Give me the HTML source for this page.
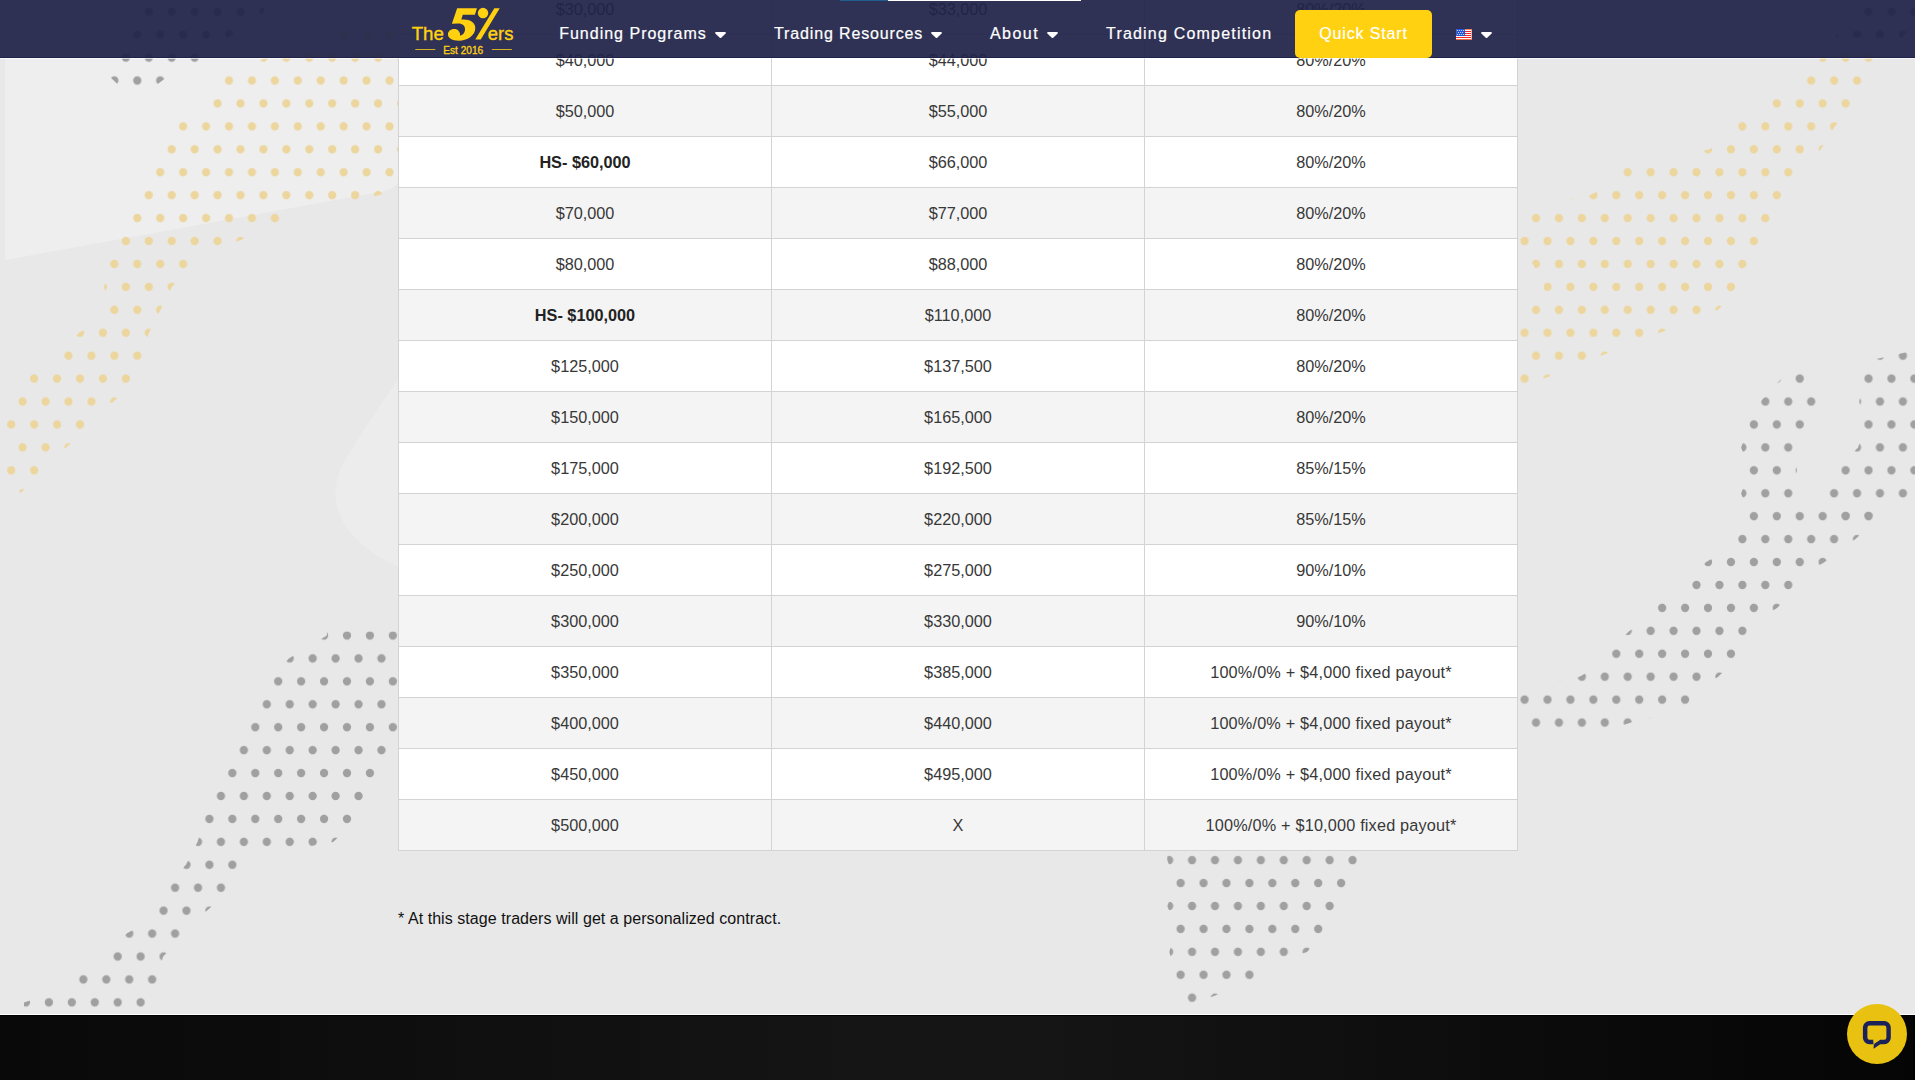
<!DOCTYPE html>
<html lang="en">
<head>
<meta charset="utf-8">
<title>The5ers – Scaling Plan</title>
<style>
*{box-sizing:border-box}
html,body{margin:0;padding:0}
body{width:1915px;height:1080px;overflow:hidden;position:relative;background:#e8e8e8;font-family:"Liberation Sans",sans-serif;color:#333}
.bg{position:absolute;left:0;top:0;width:1915px;height:1080px;display:block}
.plan{position:absolute;left:398px;top:-17px;border-collapse:separate;border-spacing:0;border-right:1px solid #d3d3d3;border-bottom:1px solid #d3d3d3;table-layout:fixed;width:1120px}
.plan td{width:373px;height:51px;padding:0;border-left:1px solid #d3d3d3;border-top:1px solid #d3d3d3;background:#fff;text-align:center;vertical-align:middle;font-size:16.25px;line-height:20px;color:#383838}
.plan tr.alt td{background:#f4f4f4}
.plan .w{letter-spacing:.18px}
.plan strong{font-weight:700;color:#222}
.note{position:absolute;left:398px;top:909px;margin:0;font-size:16px;line-height:20px;color:#111;white-space:nowrap;letter-spacing:.06px}
.footer{position:absolute;left:0;top:1014px;width:1915px;height:66px;border-top:1px solid #fff;background:#000}
.footer u{position:absolute;right:0;top:1px;width:2px;height:64px;background:#000}
.footer i{position:absolute;left:0;top:1px;width:1915px;height:64px;display:block;background:linear-gradient(90deg,#090909 0%,#0c0c0c 12%,#101010 27%,#141414 42%,#151515 50%,#141414 57%,#101010 68%,#0c0c0c 79%,#080808 90%,#050505 100%)}
.header{position:absolute;left:0;top:0;width:1915px;height:58px;background:rgba(32,34,72,.93)}
.header:after{content:"";position:absolute;left:0;top:57px;width:1915px;height:1px;background:#20224a}
.header:before{content:"";position:absolute;left:0;top:58px;width:1915px;height:1px;background:rgba(255,255,255,.65)}
.progress{position:absolute;left:840px;top:0;width:241px;height:1px;background:#fff}
.progress b{display:block;width:48px;height:1px;background:#1f5e8f}
.logo{position:absolute;left:0;top:0}
.nav a{position:absolute;top:21.6px;height:24px;line-height:24px;font-size:16px;letter-spacing:.86px;color:#fff;text-decoration:none;white-space:nowrap;-webkit-text-stroke:.2px #fff}
.caret{position:absolute;top:31.5px;width:11px;height:6px}
.cta{position:absolute;left:1295px;top:10px;width:137px;height:47.7px;border-radius:5px;z-index:1;background:#ffd110;color:#fff;text-align:center;font-size:16px;letter-spacing:.84px;line-height:48px;-webkit-text-stroke:.2px #fff;text-decoration:none}
.flag{position:absolute;left:1456px;top:29px;width:16px;height:11px}
.chat{position:absolute;left:1847px;top:1004px;width:60px;height:60px;border-radius:50%;background:#e9c211}
.chat svg{position:absolute;left:0;top:0}
</style>
</head>
<body>
<svg class="bg" width="1915" height="1080" viewBox="0 0 1915 1080">
 <defs>
  <pattern id="pAy" width="22.93" height="45.86" patternUnits="userSpaceOnUse" patternTransform="translate(6.20 52.60)">
   <circle cx="5" cy="5" r="4.15" fill="#ecd69e"/><circle cx="16.43" cy="27.93" r="4.15" fill="#ecd69e"/>
  </pattern>
  <pattern id="pAg" width="22.93" height="45.86" patternUnits="userSpaceOnUse" patternTransform="translate(6.20 52.60)">
   <circle cx="5" cy="5" r="4.15" fill="#a0a0a0"/><circle cx="16.43" cy="27.93" r="4.15" fill="#a0a0a0"/>
  </pattern>
  <pattern id="pBy" width="22.93" height="45.86" patternUnits="userSpaceOnUse" patternTransform="translate(-1.95 630.50)">
   <circle cx="5" cy="5" r="4.15" fill="#ecd69e"/><circle cx="16.53" cy="27.93" r="4.15" fill="#ecd69e"/>
  </pattern>
  <pattern id="pBg" width="22.93" height="45.86" patternUnits="userSpaceOnUse" patternTransform="translate(-1.95 630.50)">
   <circle cx="5" cy="5" r="4.15" fill="#a0a0a0"/><circle cx="16.53" cy="27.93" r="4.15" fill="#a0a0a0"/>
  </pattern>
 </defs>
 <path d="M5 0H400V181C396 186 390 190 380 192L5 260Z" fill="#eeeeee"/>
 <path d="M400 377C380 405 360 435 345 460C333 481 333 502 342 520C354 542 378 559 400 567Z" fill="#ececec"/>
 <polygon points="142.9,3.8 142.9,6.6 142.9,17.0 131.4,29.6 131.4,40.0 119.9,52.5 119.9,62.9 109.5,76.5 119.5,86.0 150.0,86.5 157.0,84.5 166.5,77.5 200.8,62.9 200.8,52.5 233.2,34.8 263.9,11.8 263.9,3.8" fill="url(#pAg)"/>
 <polygon points="337.9,26.8 337.9,29.6 337.9,40.0 266.2,57.7 223.2,75.4 223.2,85.8 211.7,98.4 211.7,108.8 177.3,121.3 177.3,131.7 165.8,144.2 165.8,154.6 154.4,167.2 154.4,177.6 142.9,190.1 142.9,200.5 131.5,213.0 131.5,223.4 120.0,235.9 120.0,246.3 108.6,258.9 108.6,269.3 104.0,287.0 108.6,304.7 108.6,315.1 78.6,332.9 62.7,350.6 62.7,361.0 28.3,373.5 28.3,383.9 16.8,396.4 16.8,406.8 5.3,419.4 5.3,429.8 16.8,442.3 16.8,452.7 5.3,465.2 5.3,475.6 20.8,493.4 20.8,493.4 19.8,493.4 19.8,493.4 40.3,475.6 40.3,465.2 66.2,447.5 86.1,429.8 86.1,419.4 113.6,401.6 132.0,383.9 132.0,373.5 143.5,361.0 143.5,350.6 148.9,332.9 160.4,309.9 171.8,287.0 189.3,269.3 189.3,258.9 238.2,241.1 281.1,223.4 281.1,213.0 379.2,195.3 416.0,177.6 416.0,167.2 416.0,154.6 416.0,144.2 416.0,131.7 416.0,121.3 416.0,108.8 416.0,98.4 416.0,85.8 416.0,75.4 416.0,62.9 416.0,52.5 416.0,40.0 416.0,29.6 416.0,26.8" fill="url(#pAy)"/>
 <polygon points="1821.4,49.7 1821.4,57.7 1805.4,75.4 1805.4,85.8 1771.0,98.4 1771.0,108.8 1736.6,121.3 1736.6,131.7 1709.2,149.4 1621.9,167.2 1621.9,177.6 1590.0,195.3 1499.0,213.0 1499.0,223.4 1499.0,235.9 1499.0,246.3 1533.0,264.1 1544.4,287.0 1530.2,304.7 1530.2,315.1 1518.7,327.7 1518.7,338.1 1530.2,350.6 1530.2,361.0 1518.7,373.5 1518.7,383.9 1518.7,384.7 1543.4,384.7 1543.4,378.7 1601.1,355.8 1659.3,332.9 1717.6,309.9 1737.1,292.2 1737.1,281.8 1748.6,269.3 1748.6,258.9 1760.0,246.3 1760.0,235.9 1771.5,223.4 1771.5,213.0 1783.0,200.5 1783.0,190.1 1794.4,177.6 1794.4,167.2 1820.8,149.4 1834.8,126.5 1851.8,108.8 1851.8,98.4 1863.2,85.8 1863.2,75.4 1874.7,62.9 1874.7,52.5 1874.7,49.7" fill="url(#pAy)"/>
 <polygon points="1862.7,3.8 1862.7,6.6 1862.7,17.0 1836.3,34.8 1836.3,37.8 1903.5,37.8 1903.5,34.8 1931.0,17.0 1931.0,6.6 1931.0,3.8" fill="url(#pAg)"/>
 <polygon points="1775.5,384.7 1760.6,401.6 1748.0,419.4 1748.0,429.8 1741.1,447.5 1748.0,465.2 1748.0,475.6 1741.1,493.4 1748.0,511.1 1748.0,521.5 1736.6,534.0 1736.6,544.4 1705.7,562.2 1690.7,579.9 1690.7,590.3 1656.3,602.8 1656.3,613.2 1629.4,631.0 1610.4,648.7 1610.4,659.1 1579.5,676.8 1499.0,694.5 1499.0,704.9 1499.0,717.5 1499.0,727.9 1499.0,728.5 1613.0,728.5 1640.0,719.5 1658.0,717.0 1691.2,704.9 1691.2,694.5 1718.1,676.8 1737.1,659.1 1737.1,648.7 1748.6,636.2 1748.6,625.8 1777.0,608.0 1794.4,590.3 1794.4,579.9 1824.3,562.2 1855.2,539.2 1874.7,521.5 1874.7,511.1 1794.4,498.6 1794.4,488.2 1796.9,470.4 1794.4,452.7 1794.4,442.3 1805.9,429.8 1805.9,419.4 1817.4,406.8 1817.4,396.4 1805.9,383.9 1805.9,373.5 1805.9,372.0 1788.2,372.0" fill="url(#pAg)"/>
 <polygon points="1872.0,360.0 1862.7,373.5 1862.7,383.9 1859.2,401.6 1862.7,419.4 1862.7,429.8 1858.2,447.5 1839.8,465.2 1839.8,475.6 1828.3,488.2 1828.3,498.6 1828.3,511.1 1828.3,521.5 1828.3,516.3 1874.7,516.3 1874.7,521.5 1874.7,511.1 1931.0,498.6 1931.0,488.2 1931.0,475.6 1931.0,465.2 1931.0,452.7 1931.0,442.3 1931.0,429.8 1931.0,419.4 1931.0,406.8 1931.0,396.4 1931.0,383.9 1931.0,373.5 1925.0,348.0" fill="url(#pAg)"/>
 <polygon points="1167.3,852.2 1167.3,860.2 1174.5,878.0 1174.5,888.4 1167.3,906.1 1174.5,923.8 1174.5,934.2 1169.3,952.0 1174.5,969.7 1174.5,980.1 1186.3,992.6 1186.3,1003.0 1186.3,1004.0 1200.0,1004.0 1205.0,999.4 1255.3,980.1 1255.3,969.7 1306.9,952.0 1324.0,934.2 1324.0,923.8 1335.9,911.3 1335.9,900.9 1347.0,888.4 1347.0,878.0 1358.8,865.5 1358.8,855.0 1358.8,852.2" fill="url(#pAg)"/>
 <polygon points="326.9,631.5 326.9,635.5 288.8,658.4 272.2,676.2 272.2,686.6 260.8,699.1 260.8,709.5 249.3,722.0 249.3,732.4 237.8,744.9 237.8,755.4 226.4,767.9 226.4,778.3 214.9,790.8 214.9,801.2 203.4,813.7 203.4,824.1 197.5,841.9 186.0,864.8 169.1,882.5 169.1,892.9 157.6,905.5 157.6,915.9 126.7,933.6 111.8,951.3 111.8,961.7 77.4,974.2 77.4,984.7 24.0,1002.4 24.0,1010.4 146.7,1010.4 146.7,1007.6 146.7,997.2 158.1,984.7 158.1,974.2 163.1,956.5 181.1,938.8 181.1,928.4 206.9,910.7 226.9,892.9 226.9,882.5 238.4,870.0 238.4,859.6 333.1,841.9 353.0,824.1 353.0,813.7 364.5,801.2 364.5,790.8 376.0,778.3 376.0,767.9 416.0,755.4 416.0,744.9 416.0,732.4 416.0,722.0 416.0,709.5 416.0,699.1 416.0,686.6 416.0,676.2 416.0,663.6 416.0,653.2 416.0,640.7 416.0,630.3 416.0,631.5" fill="url(#pBg)"/>
</svg>
<table class="plan">
  <tbody>
      <tr class="alt"><td>$30,000</td><td>$33,000</td><td>80%/20%</td></tr>
      <tr class=""><td>$40,000</td><td>$44,000</td><td>80%/20%</td></tr>
      <tr class="alt"><td>$50,000</td><td>$55,000</td><td>80%/20%</td></tr>
      <tr class=""><td><strong>HS- $60,000</strong></td><td>$66,000</td><td>80%/20%</td></tr>
      <tr class="alt"><td>$70,000</td><td>$77,000</td><td>80%/20%</td></tr>
      <tr class=""><td>$80,000</td><td>$88,000</td><td>80%/20%</td></tr>
      <tr class="alt"><td><strong>HS- $100,000</strong></td><td>$110,000</td><td>80%/20%</td></tr>
      <tr class=""><td>$125,000</td><td>$137,500</td><td>80%/20%</td></tr>
      <tr class="alt"><td>$150,000</td><td>$165,000</td><td>80%/20%</td></tr>
      <tr class=""><td>$175,000</td><td>$192,500</td><td>85%/15%</td></tr>
      <tr class="alt"><td>$200,000</td><td>$220,000</td><td>85%/15%</td></tr>
      <tr class=""><td>$250,000</td><td>$275,000</td><td>90%/10%</td></tr>
      <tr class="alt"><td>$300,000</td><td>$330,000</td><td>90%/10%</td></tr>
      <tr class=""><td>$350,000</td><td>$385,000</td><td><span class="w">100%/0% + $4,000 fixed payout*</span></td></tr>
      <tr class="alt"><td>$400,000</td><td>$440,000</td><td><span class="w">100%/0% + $4,000 fixed payout*</span></td></tr>
      <tr class=""><td>$450,000</td><td>$495,000</td><td><span class="w">100%/0% + $4,000 fixed payout*</span></td></tr>
      <tr class="alt"><td>$500,000</td><td>X</td><td><span class="w">100%/0% + $10,000 fixed payout*</span></td></tr>
  </tbody>
</table>
<p class="note">* At this stage traders will get a personalized contract.</p>
<div class="footer"><i></i><u></u></div>
<div class="header">
  <svg class="logo" width="560" height="58" viewBox="0 0 560 58">
    <g fill="#ffd110">
      <g transform="translate(440 2) scale(0.04177)">
        <path d="M410 150L885 150L835 305L545 305L510 420C700 400 845 480 845 620C845 800 650 925 450 925C300 925 190 870 190 780C190 700 250 645 340 645C430 645 485 710 485 810C560 780 600 720 600 650C600 570 540 515 440 515L285 520Z"/>
        <circle cx="1030" cy="265" r="125"/>
        <path d="M1300 150L1430 150L975 900L845 900Z"/>
      </g>
      <text x="411.7" y="39.5" font-family="Liberation Sans, sans-serif" font-size="18.7" stroke="#ffd110" stroke-width=".4">The</text>
      <text x="487.8" y="39.5" font-family="Liberation Sans, sans-serif" font-size="18.4" stroke="#ffd110" stroke-width=".4">ers</text>
      <text x="443.2" y="53.8" font-family="Liberation Sans, sans-serif" font-size="10.3" stroke="#ffd110" stroke-width=".3" textLength="40" lengthAdjust="spacingAndGlyphs">Est 2016</text>
      <rect x="415.3" y="49" width="20" height="1" opacity=".8"/>
      <rect x="491.8" y="49" width="20" height="1" opacity=".8"/>
    </g>
  </svg>

  <nav class="nav">
    <a href="#" style="left:559.2px;letter-spacing:1px">Funding Programs</a>
    <svg class="caret" style="left:715px" viewBox="0 0 11 6"><path d="M1 0h9a.9.9 0 0 1 .65 1.5L6.2 5.7a1 1 0 0 1-1.4 0L.35 1.5A.9.9 0 0 1 1 0z" fill="#fff"/></svg>
    <a href="#" style="left:774px">Trading Resources</a>
    <svg class="caret" style="left:931px" viewBox="0 0 11 6"><path d="M1 0h9a.9.9 0 0 1 .65 1.5L6.2 5.7a1 1 0 0 1-1.4 0L.35 1.5A.9.9 0 0 1 1 0z" fill="#fff"/></svg>
    <a href="#" style="left:990px;letter-spacing:1.45px">About</a>
    <svg class="caret" style="left:1047px" viewBox="0 0 11 6"><path d="M1 0h9a.9.9 0 0 1 .65 1.5L6.2 5.7a1 1 0 0 1-1.4 0L.35 1.5A.9.9 0 0 1 1 0z" fill="#fff"/></svg>
    <a href="#" style="left:1106px;letter-spacing:1.2px">Trading Competition</a>
  </nav>
  <a class="cta" href="#">Quick Start</a>
  <svg class="flag" viewBox="0 0 16 11"><rect width="16" height="11" fill="#fff"/><rect y="0" width="16" height="1" fill="#e9846a"/><g fill="#f3262b"><rect y="2" width="15" height="1"/><rect y="4" width="15" height="1"/><rect y="6" width="15" height="1"/><rect y="8" width="15" height="1"/></g><rect y="10" width="16" height="1" fill="#e56a45"/><rect x="15" y="0" width="1" height="11" fill="#e8855f" opacity=".6"/><rect width="9" height="7" fill="#1f55d8"/><rect width="1" height="7" fill="#4f5fc9"/><g fill="#fff"><rect x="1.2" y="1.1" width=".9" height=".9"/><rect x="3.2" y="1.1" width=".9" height=".9"/><rect x="5.2" y="1.1" width=".9" height=".9"/><rect x="7.2" y="1.1" width=".9" height=".9"/><rect x="2.1" y="3.1" width=".9" height=".9"/><rect x="4.2" y="3.1" width=".9" height=".9"/><rect x="6.2" y="3.1" width=".9" height=".9"/><rect x="1.2" y="5.1" width=".9" height=".9"/><rect x="3.2" y="5.1" width=".9" height=".9"/><rect x="5.2" y="5.1" width=".9" height=".9"/><rect x="7.2" y="5.1" width=".9" height=".9"/></g></svg>
  <svg class="caret" style="left:1480.9px" viewBox="0 0 11 6"><path d="M1 0h9a.9.9 0 0 1 .65 1.5L6.2 5.7a1 1 0 0 1-1.4 0L.35 1.5A.9.9 0 0 1 1 0z" fill="#fff"/></svg>
</div>
<div class="progress"><b></b></div>
<div class="chat"><svg width="60" height="60" viewBox="0 0 60 60"><path fill-rule="evenodd" fill="#1b2159" d="M22.4 17h14.9a6.5 6.5 0 0 1 6.5 6.5v10.2a6.5 6.5 0 0 1-6.5 6.5h-4L26.5 44.7L26.9 40.2h-4.5a6.5 6.5 0 0 1-6.5-6.5V23.5a6.5 6.5 0 0 1 6.5-6.5zM22.6 21.6h14.6a2.2 2.2 0 0 1 2.2 2.2v9.7a2.2 2.2 0 0 1-2.2 2.2h-3.9L27 39.9L26.3 35.7h-3.7a2.2 2.2 0 0 1-2.2-2.2v-9.7a2.2 2.2 0 0 1 2.2-2.2z"/><path d="M26.55 35.7L26.8 40.6" stroke="#e9c211" stroke-width=".6" fill="none"/></svg></div>
</body>
</html>
